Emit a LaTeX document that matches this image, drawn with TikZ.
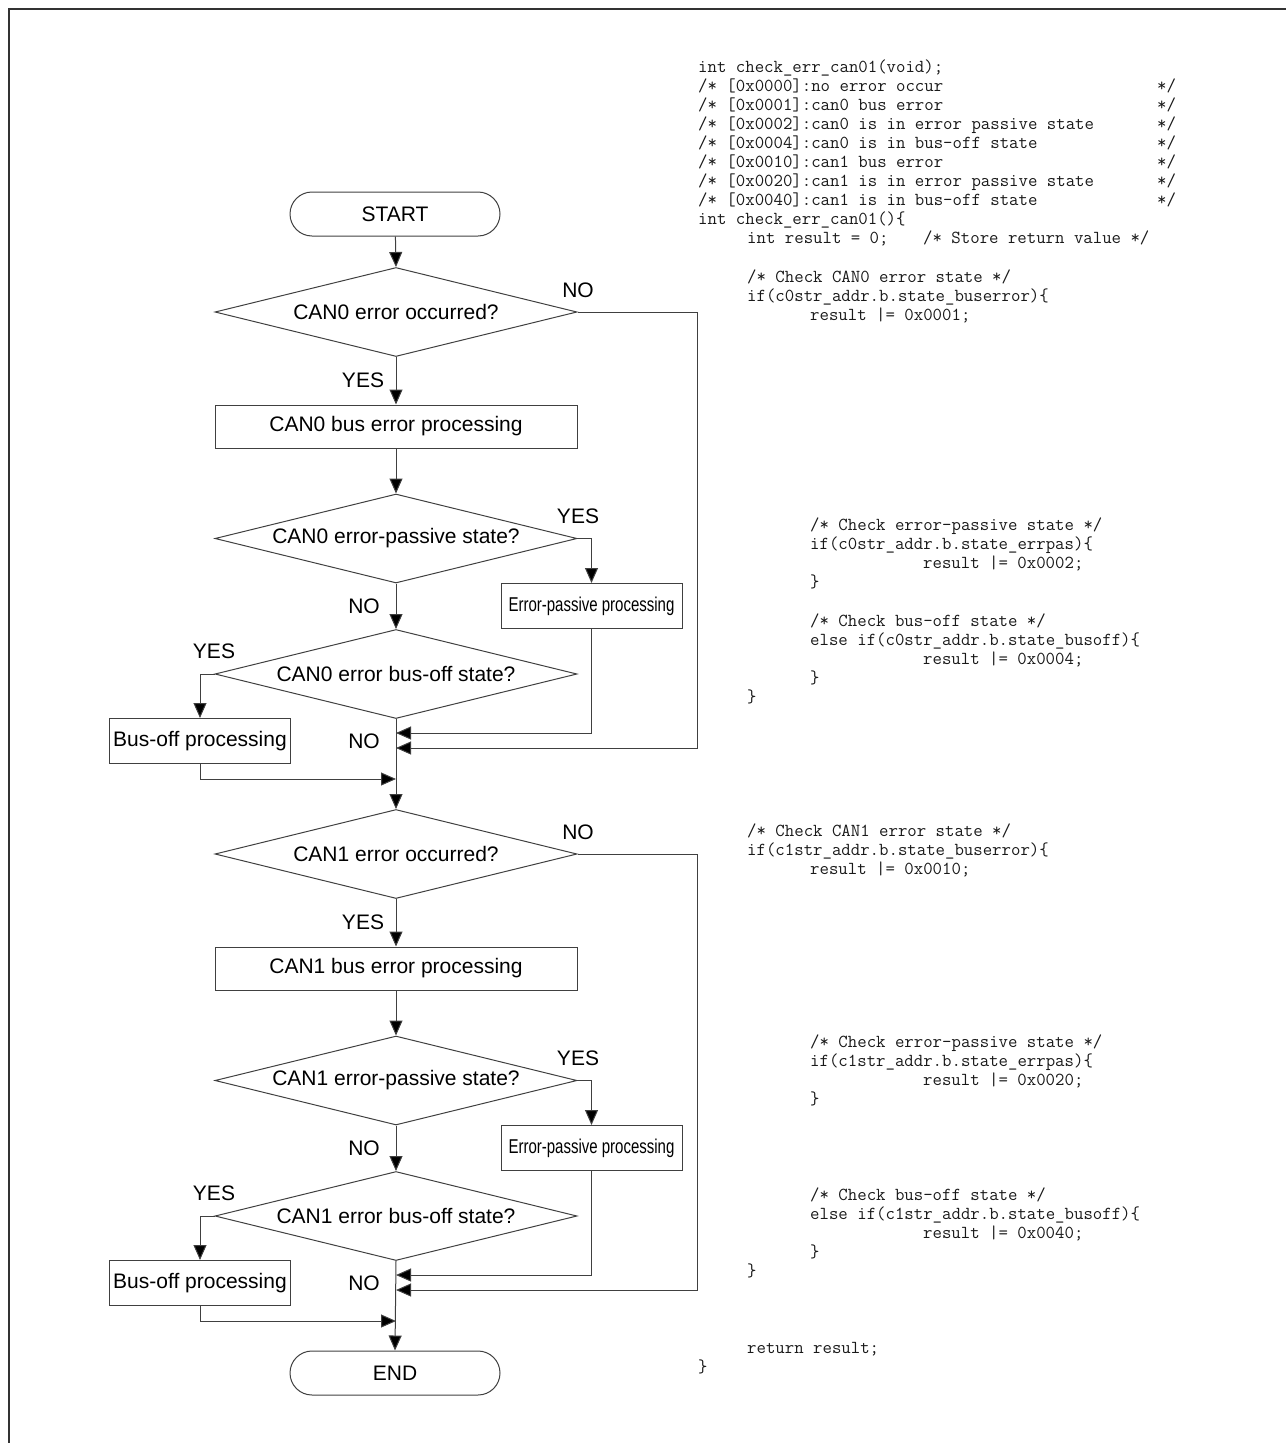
\documentclass[tikz,border=0pt]{standalone}
\usepackage{fontspec}
\setmainfont{Liberation Sans}
\newfontfamily\labfont{Liberation Sans}
\newfontfamily\condfont[FakeStretch=0.75]{Liberation Sans}
\usetikzlibrary{shapes.geometric,arrows.meta}
\tikzset{
  line/.style={draw=black!75, line width=1pt},
  arr/.style={line, -{Triangle[length=15pt,width=13pt,fill=black]}},
  lab/.style={font=\labfont\fontsize{21}{24}\selectfont, inner sep=0pt},
  term/.style={line, rectangle, rounded corners=22pt, minimum width=210pt, minimum height=44pt, font=\labfont\fontsize{21}{24}\selectfont},
  dec/.style={line, diamond, inner sep=0pt, minimum width=362pt, minimum height=89pt, font=\labfont\fontsize{21}{24}\selectfont},
  proc/.style={line, rectangle, inner sep=0pt, font=\labfont\fontsize{21}{24}\selectfont},
  code/.style={anchor=base west, inner sep=0pt, text=black!90, font=\ttfamily\fontsize{18.3}{19}\selectfont}
}
\newcommand\cl[3]{\node[code] at (#1,#2) {#3};}
\begin{document}
\begin{tikzpicture}[x=1pt,y=-1pt]
\useasboundingbox (0,0) rectangle (1286,1443);
% frame
\draw[black!80, line width=1.6pt] (9,1443) -- (9,9) -- (1286,9);

% ---------- CAN0 ----------
\node[term] (start) at (395,214) {START};
\node[dec] (d1) at (396,312) {\makebox[0pt]{CAN0 error occurred?}};
\node[proc, minimum width=362pt, minimum height=43pt] (p1) at (396,426.5) {CAN0 bus error processing};
\node[dec] (d2) at (396,538.5) {\makebox[0pt]{CAN0 error-passive state?}};
\node[proc, minimum width=181pt, minimum height=45pt] (ep1) at (591.5,606) {\condfont\fontsize{20}{24}\selectfont Error-passive processing};
\node[dec] (d3) at (396,674) {\makebox[0pt]{CAN0 error bus-off state?}};
\node[proc, minimum width=181pt, minimum height=45pt] (bo1) at (200,741) {Bus-off processing};
\coordinate (j1) at (396,733);
\coordinate (j2) at (396,748);
\coordinate (j3) at (396,779);
\coordinate (r1) at (697,748);

\draw[arr] (start) -- (d1.north);
\draw[arr] (d1.south) -- (p1.north);
\draw[arr] (p1.south) -- (d2.north);
\draw[arr] (d2.south) -- (d3.north);
\draw[arr] (d2.east) -| (ep1.north);
\draw[arr] (d3.west) -| (bo1.north);
\draw[arr] (ep1.south) |- (j1);
\draw[arr] (d1.east) -| (r1) -- (j2);
\draw[arr] (bo1.south) |- (j3);

\node[lab] at (578,290) {NO};
\node[lab] at (363,380) {YES};
\node[lab] at (578,516) {YES};
\node[lab] at (364,606) {NO};
\node[lab] at (214,651) {YES};
\node[lab] at (364,741) {NO};

% ---------- CAN1 ----------
\node[dec] (d4) at (396,854) {\makebox[0pt]{CAN1 error occurred?}};
\node[proc, minimum width=362pt, minimum height=43pt] (p2) at (396,968.5) {CAN1 bus error processing};
\node[dec] (d5) at (396,1080.5) {\makebox[0pt]{CAN1 error-passive state?}};
\node[proc, minimum width=181pt, minimum height=45pt] (ep2) at (591.5,1148) {\condfont\fontsize{20}{24}\selectfont Error-passive processing};
\node[dec] (d6) at (396,1216) {\makebox[0pt]{CAN1 error bus-off state?}};
\node[proc, minimum width=181pt, minimum height=45pt] (bo2) at (200,1283) {Bus-off processing};
\node[term] (end) at (395,1373) {END};
\coordinate (k1) at (396,1275);
\coordinate (k2) at (396,1290);
\coordinate (k3) at (396,1321);
\coordinate (r2) at (697,1290);

\draw[arr] (d3.south) -- (d4.north);
\draw[arr] (d4.south) -- (p2.north);
\draw[arr] (p2.south) -- (d5.north);
\draw[arr] (d5.south) -- (d6.north);
\draw[arr] (d5.east) -| (ep2.north);
\draw[arr] (d6.west) -| (bo2.north);
\draw[arr] (ep2.south) |- (k1);
\draw[arr] (d4.east) -| (r2) -- (k2);
\draw[arr] (bo2.south) |- (k3);
\draw[arr] (d6.south) -- (end.north);

\node[lab] at (578,832) {NO};
\node[lab] at (363,922) {YES};
\node[lab] at (578,1058) {YES};
\node[lab] at (364,1148) {NO};
\node[lab] at (214,1193) {YES};
\node[lab] at (364,1283) {NO};

% ---------- code ----------
\cl{698}{72}{int check\_err\_can01(void);}
\cl{698}{91}{/* [0x0000]:no error occur}
\cl{698}{110}{/* [0x0001]:can0 bus error}
\cl{698}{129}{/* [0x0002]:can0 is in error passive state}
\cl{698}{148}{/* [0x0004]:can0 is in bus-off state}
\cl{698}{167}{/* [0x0010]:can1 bus error}
\cl{698}{186}{/* [0x0020]:can1 is in error passive state}
\cl{698}{205}{/* [0x0040]:can1 is in bus-off state}
\cl{1157}{91}{*/}
\cl{1157}{110}{*/}
\cl{1157}{129}{*/}
\cl{1157}{148}{*/}
\cl{1157}{167}{*/}
\cl{1157}{186}{*/}
\cl{1157}{205}{*/}
\cl{698}{224}{int check\_err\_can01()\{}
\cl{747}{243}{int result = 0;}
\cl{923}{243}{/* Store return value */}
\cl{747}{282}{/* Check CAN0 error state */}
\cl{747}{301}{if(c0str\_addr.b.state\_buserror)\{}
\cl{810}{320}{result |= 0x0001;}
\cl{810}{530}{/* Check error-passive state */}
\cl{810}{549}{if(c0str\_addr.b.state\_errpas)\{}
\cl{923}{568}{result |= 0x0002;}
\cl{810}{587}{\}}
\cl{810}{626}{/* Check bus-off state */}
\cl{810}{645}{else if(c0str\_addr.b.state\_busoff)\{}
\cl{923}{664}{result |= 0x0004;}
\cl{810}{683}{\}}
\cl{747}{702}{\}}
\cl{747}{836}{/* Check CAN1 error state */}
\cl{747}{855}{if(c1str\_addr.b.state\_buserror)\{}
\cl{810}{874}{result |= 0x0010;}
\cl{810}{1047}{/* Check error-passive state */}
\cl{810}{1066}{if(c1str\_addr.b.state\_errpas)\{}
\cl{923}{1085}{result |= 0x0020;}
\cl{810}{1104}{\}}
\cl{810}{1200}{/* Check bus-off state */}
\cl{810}{1219}{else if(c1str\_addr.b.state\_busoff)\{}
\cl{923}{1238}{result |= 0x0040;}
\cl{810}{1257}{\}}
\cl{747}{1276}{\}}
\cl{747}{1353}{return result;}
\cl{698}{1372}{\}}
\end{tikzpicture}
\end{document}
